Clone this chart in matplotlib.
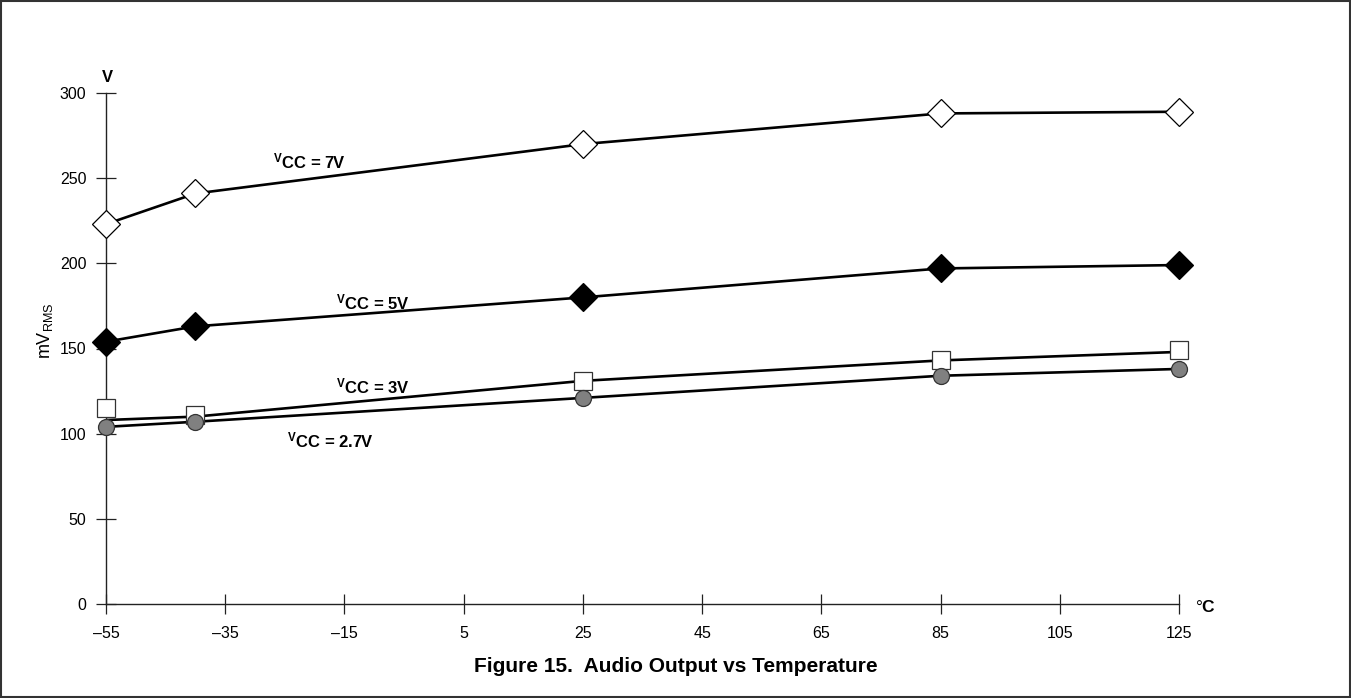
import matplotlib
matplotlib.use("Agg")
import matplotlib.pyplot as plt
from matplotlib.patches import Rectangle

plt.rcParams['font.family'] = ['Liberation Sans', 'DejaVu Sans']
plt.rcParams['mathtext.fontset'] = 'custom'
plt.rcParams['mathtext.rm'] = 'Liberation Sans'
plt.rcParams['mathtext.bf'] = 'Liberation Sans:bold'

# Data (temperature in degC, output in mV RMS)
temp = [-55, -40, 25, 85, 125]
vcc_7 = [223, 241, 270, 288, 289]
vcc_5 = [154, 163, 180, 197, 199]
vcc_3 = [115, 111, 131, 143, 149]
vcc_3_line = [108, 110, 131, 143, 148]
vcc_27 = [104, 107, 121, 134, 138]

x_ticks = [-55, -35, -15, 5, 25, 45, 65, 85, 105, 125]
x_labels = ['\u201355', '\u201335', '\u201315', '5', '25', '45', '65', '85', '105', '125']
y_ticks = [0, 50, 100, 150, 200, 250, 300]

fig = plt.figure(figsize=(13.51, 6.98), dpi=100)
ax = fig.add_axes([106 / 1351, 94 / 698, 1073 / 1351, 511 / 698])

lw = 1.9
ax.plot(temp, vcc_7, color='black', lw=lw, zorder=2)
ax.plot(temp, vcc_7, ls='none', marker='D', ms=14.5, mfc='white', mec='black', mew=0.9,
        clip_on=False, zorder=3)
ax.plot(temp, vcc_5, color='black', lw=lw, zorder=2)
ax.plot(temp, vcc_5, ls='none', marker='D', ms=14.5, mfc='black', mec='black', mew=0.9,
        clip_on=False, zorder=3)
ax.plot(temp, vcc_3_line, color='black', lw=lw, zorder=2)
ax.plot(temp, vcc_3, ls='none', marker='s', ms=12.8, mfc='white', mec='#333333', mew=0.9,
        clip_on=False, zorder=3)
ax.plot(temp, vcc_27, color='black', lw=lw, zorder=2)
ax.plot(temp, vcc_27, ls='none', marker='o', ms=11.5, mfc='#808080', mec='#333333', mew=0.9,
        clip_on=False, zorder=4)

ax.set_xlim(-55, 125)
ax.set_ylim(0, 300)
ax.set_xticks(x_ticks)
ax.set_xticklabels(x_labels)
ax.set_yticks(y_ticks)
ax.spines['top'].set_visible(False)
ax.spines['right'].set_visible(False)
for s in ['left', 'bottom']:
    ax.spines[s].set_color('#222222')
    ax.spines[s].set_linewidth(1.0)
ax.tick_params(axis='both', direction='inout', length=14, width=0.9, color='#222222',
               labelsize=11.5)
ax.tick_params(axis='x', pad=9)
ax.tick_params(axis='y', pad=7)

# series labels
lab = dict(fontsize=12, fontweight='bold', va='center', ha='left')
ax.text(-27, 260, r'$\mathbf{{}^{V}CC}$ = 7V', **lab)
ax.text(-16.4, 177, r'$\mathbf{{}^{V}CC}$ = 5V', **lab)
ax.text(-16.4, 128, r'$\mathbf{{}^{V}CC}$ = 3V', **lab)
ax.text(-24.6, 96, r'$\mathbf{{}^{V}CC}$ = 2.7V', **lab)

# axis unit labels
fig.text(107 / 1351, 1 - 77 / 698, 'V', fontsize=12, fontweight='bold', ha='center', va='center')
fig.text(1195 / 1351, 1 - 607 / 698, '\u00b0$\\mathbf{C}$', fontsize=12.5,
         ha='left', va='center')
fig.text(45 / 1351, 1 - 331 / 698, r'mV$_{\mathregular{RMS}}$', fontsize=13, rotation=90,
         ha='center', va='center')

fig.text(0.5, 1 - 667 / 698, 'Figure 15.  Audio Output vs Temperature', fontsize=15,
         fontweight='bold', ha='center', va='center')

fig.patches.append(Rectangle((0.0005, 0.001), 0.999, 0.998, transform=fig.transFigure,
                             fill=False, edgecolor='#333333', lw=1.5))

fig.savefig('out.png', dpi=100)
